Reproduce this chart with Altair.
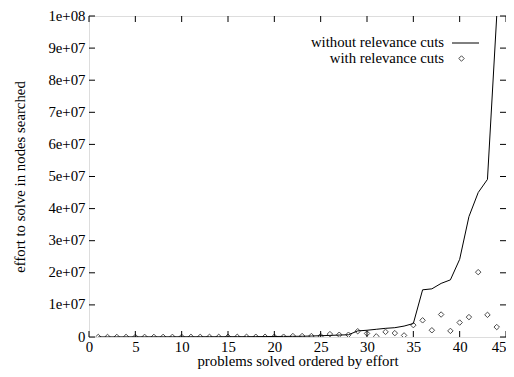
import altair as alt
import pandas as pd

problems = list(range(1, 45))
without_cuts = [
    2e4, 2e4, 3e4, 3e4, 4e4, 4e4, 5e4, 5e4, 6e4, 6e4,
    7e4, 7e4, 8e4, 8e4, 9e4, 1e5, 1e5, 1.2e5, 1.4e5, 1.6e5,
    1.8e5, 2e5, 2.2e5, 3e5, 4e5, 5e5, 6e5, 7e5, 1.9e6, 2.1e6,
    2.4e6, 2.7e6, 2.9e6, 3.4e6, 4.2e6, 1.47e7, 1.5e7, 1.67e7, 1.78e7, 2.42e7,
    3.75e7, 4.5e7, 4.91e7, 1.0e8,
]
with_cuts = [
    1e4, 1e4, 2e4, 2e4, 2e4, 3e4, 3e4, 3e4, 4e4, 4e4,
    4e4, 5e4, 5e4, 5e4, 6e4, 6e4, 7e4, 7e4, 8e4, 8e4,
    9e4, 3e5, 3e5, 3e5, 3e5, 9e5, 7e5, 7e5, 1.8e6, 1.1e6,
    2e5, 1.6e6, 1.2e6, 5e5, 3.7e6, 5.2e6, 2.1e6, 7e6, 1.9e6, 4.5e6,
    6.2e6, 2.02e7, 6.9e6, 3.1e6,
]
x_ticks = [0, 5, 10, 15, 20, 25, 30, 35, 40, 45]
y_ticks = [0, 1e7, 2e7, 3e7, 4e7, 5e7, 6e7, 7e7, 8e7, 9e7, 1e8]
legend_labels = ["without relevance cuts", "with relevance cuts"]

W, H = 417, 321
TOP = 8
FONT = "Liberation Serif"
FS = 14.8

df = pd.DataFrame({"problem": problems, "without": without_cuts, "with": with_cuts})

label_expr = "datum.value == 0 ? '0' : replace(format(datum.value, '.0e'), 'e+', 'e+0')"

xs = alt.Scale(domain=[0, 45], nice=False, zero=False)
ys = alt.Scale(domain=[0, 1e8], nice=False)

x_axis = alt.Axis(values=x_ticks, ticks=False, domain=False, grid=False, labelFont=FONT,
                  labelFontSize=FS, labelColor="black", labelPadding=2, labelFlush=False,
                  labelOverlap=False,
                  labelAlign={"condition": {"test": "datum.value == 45", "value": "right"}, "value": "center"},
                  title="problems solved ordered by effort", titleFont=FONT, titleFontSize=FS,
                  titleFontWeight="normal", titleColor="black", titlePadding=0)
y_axis = alt.Axis(values=y_ticks, ticks=False, domain=False, grid=False, labelFont=FONT,
                  labelFontSize=FS, labelColor="black", labelPadding=4, labelExpr=label_expr,
                  labelOverlap=False, labelFlush=False,
                  title="effort to solve in nodes searched", titleFont=FONT, titleFontSize=FS,
                  titleFontWeight="normal", titleColor="black", titlePadding=20)

base = alt.Chart(df)
line = base.mark_line(color="black", strokeWidth=1, clip=True).encode(
    x=alt.X("problem:Q", scale=xs, axis=x_axis),
    y=alt.Y("without:Q", scale=ys, axis=y_axis),
)
pts = base.mark_point(shape="diamond", size=30, color="black", strokeWidth=1, filled=False, clip=True).encode(
    x=alt.X("problem:Q", scale=xs, axis=x_axis),
    y=alt.Y("with:Q", scale=ys, axis=y_axis),
)

ydf = pd.DataFrame({"v": y_ticks})
xdf = pd.DataFrame({"v": x_ticks})
yt_left = alt.Chart(ydf).mark_rule(color="black", strokeWidth=1).encode(
    y=alt.Y("v:Q", scale=ys, axis=y_axis), x=alt.value(0), x2=alt.value(6))
yt_right = alt.Chart(ydf).mark_rule(color="black", strokeWidth=1).encode(
    y=alt.Y("v:Q", scale=ys, axis=y_axis), x=alt.value(W - 6), x2=alt.value(W))
xt_bot = alt.Chart(xdf).mark_rule(color="black", strokeWidth=1).encode(
    x=alt.X("v:Q", scale=xs, axis=x_axis), y=alt.value(H), y2=alt.value(H - 6))
xt_top = alt.Chart(xdf).mark_rule(color="black", strokeWidth=1).encode(
    x=alt.X("v:Q", scale=xs, axis=x_axis), y=alt.value(0), y2=alt.value(6))

ly1, ly2 = 43 - 8 - TOP, 58.5 - 8 - TOP
ldf = pd.DataFrame({"label": legend_labels})
leg_text1 = alt.Chart(ldf.iloc[[0]]).mark_text(align="right", baseline="middle", font=FONT, fontSize=FS, color="black").encode(
    text="label:N", x=alt.value(355), y=alt.value(ly1))
leg_text2 = alt.Chart(ldf.iloc[[1]]).mark_text(align="right", baseline="middle", font=FONT, fontSize=FS, color="black").encode(
    text="label:N", x=alt.value(355), y=alt.value(ly2))
leg_line = alt.Chart(ldf.iloc[[0]]).mark_rule(color="black", strokeWidth=1).encode(
    x=alt.value(363), x2=alt.value(390), y=alt.value(ly1))
leg_pt = alt.Chart(ldf.iloc[[1]]).mark_point(shape="diamond", size=30, color="black", strokeWidth=1, filled=False).encode(
    x=alt.value(372.5), y=alt.value(ly2))

chart = alt.layer(
    line, pts, yt_left, yt_right, xt_bot, xt_top, leg_text1, leg_text2, leg_line, leg_pt
).properties(
    width=W, height=H,
    autosize=alt.AutoSizeParams(type="none"),
    padding={"left": 81, "top": TOP, "right": 0, "bottom": 361 - TOP - H},
).configure_view(stroke="black", strokeWidth=1).configure(background="white")

chart.save("out.html", embed_options={"renderer": "svg", "actions": False})
